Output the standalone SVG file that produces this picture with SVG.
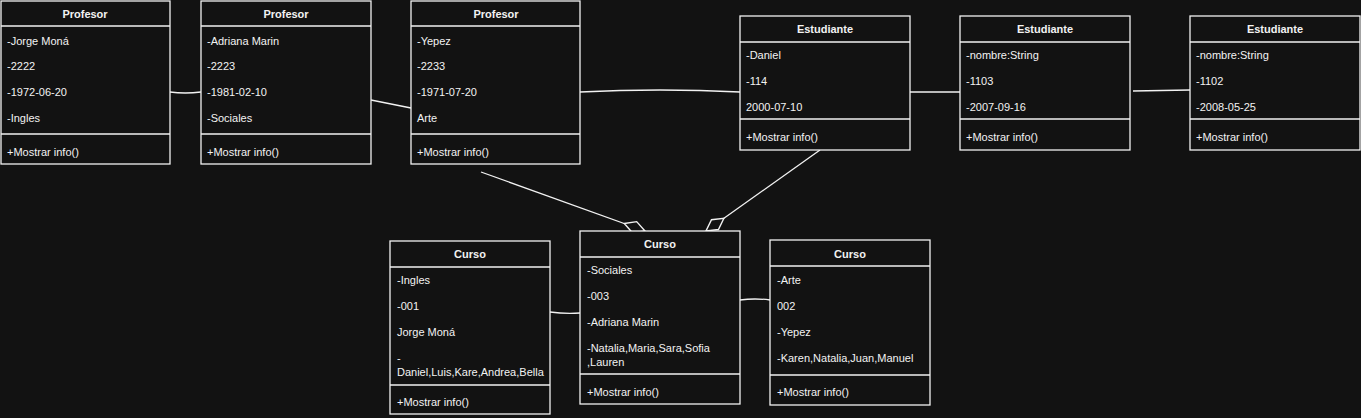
<svg xmlns="http://www.w3.org/2000/svg" width="1361" height="418" viewBox="0 0 1361 418">
<defs>
<marker id="dia" markerUnits="userSpaceOnUse" markerWidth="24" markerHeight="14" refX="23" refY="7" orient="auto" viewBox="0 0 24 14">
<path d="M1,7 L12,1 L23,7 L12,13 Z" fill="#121212" stroke="#f2f2f2" stroke-width="1.4"/>
</marker>
<style>
.b{fill:#121212;stroke:#f2f2f2;stroke-width:1.3}
.l{stroke:#f2f2f2;stroke-width:1.3;fill:none}
text{font-family:"Liberation Sans",Arial,sans-serif;font-size:11px;fill:#f2f2f2}
.h{font-weight:bold;text-anchor:middle}
</style>
</defs>
<rect width="1361" height="418" fill="#121212"/>
<g id="connectors" class="l">
<path d="M170,92 Q185,94 201,92"/>
<path d="M371,100 L411,108"/>
<path d="M580,92 Q660,88 740,92"/>
<path d="M910,92 L960,92"/>
<path d="M1133,91 L1190,90"/>
<path d="M550,312 Q565,314 580,313"/>
<path d="M740,300 Q755,298 770,300"/>
<path d="M481,172 L645,231" marker-end="url(#dia)"/>
<path d="M820,150 L706,231" marker-end="url(#dia)"/>
</g>
<g id="profesor1">
<rect class="b" x="1" y="1" width="169" height="163"/>
<line class="l" x1="1" y1="26" x2="170" y2="26"/>
<line class="l" x1="1" y1="134" x2="170" y2="134"/>
<text class="h" x="85" y="18">Profesor</text>
<text x="7" y="45">-Jorge Moná</text>
<text x="7" y="70">-2222</text>
<text x="7" y="96">-1972-06-20</text>
<text x="7" y="122">-Ingles</text>
<text x="7" y="156">+Mostrar info()</text>
</g>
<g id="profesor2">
<rect class="b" x="201" y="1" width="170" height="163"/>
<line class="l" x1="201" y1="26" x2="371" y2="26"/>
<line class="l" x1="201" y1="134" x2="371" y2="134"/>
<text class="h" x="286" y="18">Profesor</text>
<text x="207" y="45">-Adriana Marin</text>
<text x="207" y="70">-2223</text>
<text x="207" y="96">-1981-02-10</text>
<text x="207" y="122">-Sociales</text>
<text x="207" y="156">+Mostrar info()</text>
</g>
<g id="profesor3">
<rect class="b" x="411" y="1" width="169" height="163"/>
<line class="l" x1="411" y1="26" x2="580" y2="26"/>
<line class="l" x1="411" y1="134" x2="580" y2="134"/>
<text class="h" x="496" y="18">Profesor</text>
<text x="417" y="45">-Yepez</text>
<text x="417" y="70">-2233</text>
<text x="417" y="96">-1971-07-20</text>
<text x="417" y="122">Arte</text>
<text x="417" y="156">+Mostrar info()</text>
</g>
<g id="estudiante1">
<rect class="b" x="740" y="16" width="170" height="134"/>
<line class="l" x1="740" y1="42" x2="910" y2="42"/>
<line class="l" x1="740" y1="119" x2="910" y2="119"/>
<text class="h" x="825" y="33">Estudiante</text>
<text x="746" y="59">-Daniel</text>
<text x="746" y="85">-114</text>
<text x="746" y="111">2000-07-10</text>
<text x="746" y="141">+Mostrar info()</text>
</g>
<g id="estudiante2">
<rect class="b" x="960" y="16" width="170" height="134"/>
<line class="l" x1="960" y1="42" x2="1130" y2="42"/>
<line class="l" x1="960" y1="119" x2="1130" y2="119"/>
<text class="h" x="1045" y="33">Estudiante</text>
<text x="966" y="59">-nombre:String</text>
<text x="966" y="85">-1103</text>
<text x="966" y="111">-2007-09-16</text>
<text x="966" y="141">+Mostrar info()</text>
</g>
<g id="estudiante3">
<rect class="b" x="1190" y="16" width="170" height="134"/>
<line class="l" x1="1190" y1="42" x2="1360" y2="42"/>
<line class="l" x1="1190" y1="119" x2="1360" y2="119"/>
<text class="h" x="1275" y="33">Estudiante</text>
<text x="1196" y="59">-nombre:String</text>
<text x="1196" y="85">-1102</text>
<text x="1196" y="111">-2008-05-25</text>
<text x="1196" y="141">+Mostrar info()</text>
</g>
<g id="curso1">
<rect class="b" x="390" y="241" width="160" height="173"/>
<line class="l" x1="390" y1="267" x2="550" y2="267"/>
<line class="l" x1="390" y1="385" x2="550" y2="385"/>
<text class="h" x="470" y="258">Curso</text>
<text x="397" y="284">-Ingles</text>
<text x="397" y="310">-001</text>
<text x="397" y="336">Jorge Moná</text>
<text x="397" y="362">-</text>
<text x="397" y="376">Daniel,Luis,Kare,Andrea,Bella</text>
<text x="397" y="406">+Mostrar info()</text>
</g>
<g id="curso2">
<rect class="b" x="580" y="231" width="160" height="173"/>
<line class="l" x1="580" y1="257" x2="740" y2="257"/>
<line class="l" x1="580" y1="374" x2="740" y2="374"/>
<text class="h" x="660" y="248">Curso</text>
<text x="587" y="274">-Sociales</text>
<text x="587" y="300">-003</text>
<text x="587" y="326">-Adriana Marin</text>
<text x="587" y="352">-Natalia,Maria,Sara,Sofia</text>
<text x="587" y="366">,Lauren</text>
<text x="587" y="396">+Mostrar info()</text>
</g>
<g id="curso3">
<rect class="b" x="770" y="240" width="160" height="165"/>
<line class="l" x1="770" y1="266" x2="930" y2="266"/>
<line class="l" x1="770" y1="375" x2="930" y2="375"/>
<text class="h" x="850" y="258">Curso</text>
<text x="777" y="284">-Arte</text>
<text x="777" y="310">002</text>
<text x="777" y="336">-Yepez</text>
<text x="777" y="362">-Karen,Natalia,Juan,Manuel</text>
<text x="777" y="396">+Mostrar info()</text>
</g>
</svg>
